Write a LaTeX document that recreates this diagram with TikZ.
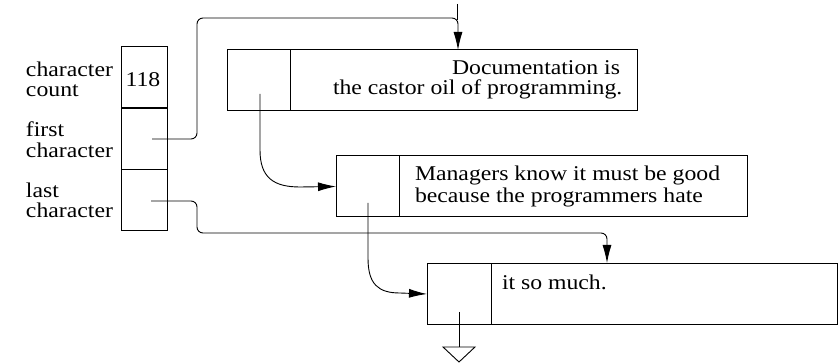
\documentclass[tikz,border=0pt]{standalone}
\usepackage{fontspec}
\setmainfont{Liberation Serif}[FakeStretch=1.13]
\usetikzlibrary{arrows.meta}
\begin{document}
\begin{tikzpicture}[x=1pt,y=-1pt,
  every node/.style={inner sep=0pt, outer sep=0pt},
  cell/.style={draw, line width=1pt, minimum width=#1, minimum height=61pt},
  txt/.style={anchor=base west, font=\fontsize{21}{20}\selectfont},
  wire/.style={line width=0.9pt, rounded corners=6pt},
  tip/.style={-{Latex[length=18pt,width=9pt]}}]
\useasboundingbox (0,0) rectangle (839,363);
% left record
\node[cell=46pt] (cnt) at (144,77.5) {};
\node[cell=46pt] (fst) at (144,139) {};
\node[cell=46pt] (lst) at (144,200.5) {};
\node[anchor=base, font=\fontsize{21}{20}\selectfont] (n118) at (143,87) {118};
\node[txt] (l1) at (26,77) {character};
\node[txt] (l2) at (26,97) {count};
\node[txt] (l3) at (26,137) {first};
\node[txt] (l4) at (26,158) {character};
\node[txt] (l5) at (26,198) {last};
\node[txt] (l6) at (26,218) {character};
% box 1
\node[cell=63pt] (c1) at (258.5,80.5) {};
\node[cell=347pt] (t1) at (463.5,80.5) {};
\node[txt] (d1) at (452,75) {Documentation is};
\node[txt] (d2) at (333,95) {the castor oil of programming.};
% box 2
\node[cell=63pt] (c2) at (367.5,186.5) {};
\node[cell=348pt] (t2) at (573,186.5) {};
\node[txt] (m1) at (415,181) {Managers know it must be good};
\node[txt] (m2) at (415,203) {because the programmers hate};
% box 3
\node[cell=64pt] (c3) at (459,294) {};
\node[cell=346pt] (t3) at (664,294) {};
\node[txt] (s1) at (502,290) {it so much.};
% pointer start points
\coordinate (pf) at (152,139);
\coordinate (pl) at (151,201);
\coordinate (p1) at (260,94);
\coordinate (p2) at (368,203);
\coordinate (p3) at (459,312);
% first character -> box 1
\draw[wire,tip] (pf) -- (197,139) -- (197,18) -- (458,18) -- (458,50);
\draw[line width=0.9pt] (457,4) -- (457,20);
% last character -> box 3
\draw[wire,tip] (pl) -- (197,201) -- (197,233) -- (607,233) -- (607,263);
% box1 -> box2
\draw[line width=0.9pt,tip] (p1) -- (260,150) .. controls (260,178) and (274,187) .. (300,187) -- (c2.west);
% box2 -> box3
\draw[line width=0.9pt,tip] (p2) -- (368,258) .. controls (368,284) and (378,293) .. (400,293) -- (c3.west);
% ground
\coordinate (g) at (459,347);
\draw[line width=0.9pt] (p3) -- (g);
\draw[line width=0.9pt] (443,347) -- (475,347) -- (459,362) -- cycle;
\end{tikzpicture}
\end{document}
